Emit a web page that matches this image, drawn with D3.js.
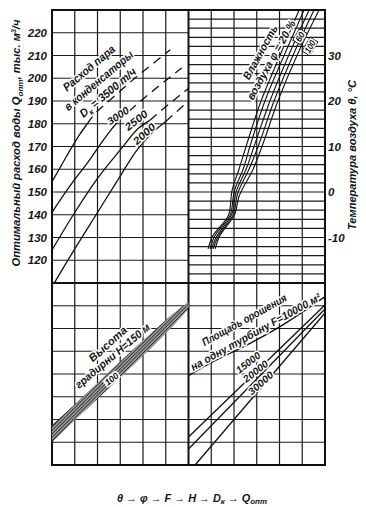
<!DOCTYPE html>
<html>
<head>
<meta charset="utf-8">
<script src="https://cdn.jsdelivr.net/npm/d3@7"></script>
<style>
body { margin: 0; background: #fff; }
svg text { font-family: "Liberation Sans", Arial, sans-serif; font-style: italic; font-weight: bold; fill: #151515; }
svg text.note { stroke: #fff; stroke-width: 3px; paint-order: stroke; stroke-linejoin: round; }
</style>
</head>
<body>
<svg id="chart" width="366" height="507"></svg>
<script>
// left axis, optimal water flow (thousand m3/h)
var flowTicks = [120, 130, 140, 150, 160, 170, 180, 190, 200, 210, 220];
// right axis, air temperature (C)
var tempTicks = [-10, 0, 10, 20, 30];

// steam flow into condensers D_k: [column, Q_opt]
var dk3500 = [[0,154.5],[0.4,161.5],[0.86,169.5],[1.2,175],[1.55,180],[1.85,184],[2.5,190],[3.7,200.5],[4.57,207.5],[5.2,212.5]];
var dk3000 = [[0,141],[0.5,148.5],[1,155.5],[1.5,162],[1.82,166.5],[2.2,172],[2.57,177],[2.9,181],[3.5,186.5],[4.5,195],[5.7,204.5]];
var dk2500 = [[0,124.5],[1,141],[2,156],[3,168.5],[3.8,178],[4.3,181.5],[5,187.5],[6,195.5]];
var dk2000 = [[0.1,110],[1,125],[2,141],[3,157],[3.7,168],[4.3,175],[5,181],[5.5,185.5],[6,190]];
var dashAbove = 181.5;

// air humidity phi lines: [temperature, column]
var phi20  = [[-12.5,6.86],[-10,7.03],[-4.8,7.78],[0.7,7.93],[5,8.22],[10,8.53],[20,9.19],[30,10.02],[40,10.86]];
var phi40  = [[-12.5,6.95],[-10,7.12],[-4.8,7.85],[0.3,8.02],[5,8.40],[10,8.70],[20,9.36],[30,10.20],[40,11.08]];
var phi60  = [[-12.5,7.01],[-10,7.21],[-4.8,7.91],[0,8.09],[5,8.53],[10,8.88],[20,9.58],[30,10.40],[40,11.30]];
var phi80  = [[-12.5,7.08],[-10,7.28],[-4.8,7.98],[-0.5,8.15],[5,8.66],[10,9.06],[20,9.76],[30,10.59],[40,11.52]];
var phi100 = [[-12.5,7.17],[-10,7.34],[-4.8,8.04],[-1,8.22],[5,8.84],[10,9.23],[20,9.93],[30,10.77],[40,11.74]];

// tower height H lines (lower panel): [column, row]
var h150 = [[0,6.29],[6,0.88]];
var h100 = [[0,6.95],[6,1.08]];

// irrigation area F lines: [column, row]
var f10000 = [[6,4.07],[7.08,3.46],[8.56,2.73],[10.02,1.92],[12,0.6]];
var f15000 = [[6,6.77],[12,0.97]];
var f20000 = [[6,7.3],[12,1.14]];
var f30000 = [[6.29,8],[12,1.32]];

var svg = d3.select("#chart");

var x = d3.scaleLinear().domain([0, 12]).range([52, 325]);
var yQ = d3.scaleLinear().domain([110, 230]).range([283, 10]);
var yT = d3.scaleLinear().domain([-20, 40]).range([283, 10]);
var yB = d3.scaleLinear().domain([0, 8]).range([283, 465]);

var defs = svg.append("defs");
var pat = defs.append("pattern").attr("id", "hatch").attr("patternUnits", "userSpaceOnUse")
  .attr("width", 2.4).attr("height", 2.4).attr("patternTransform", "rotate(45)");
pat.append("rect").attr("width", 2.4).attr("height", 2.4).attr("fill", "#9a9a9a");
pat.append("line").attr("x1", 0).attr("y1", 0).attr("x2", 0).attr("y2", 2.4)
  .attr("stroke", "#111").attr("stroke-width", 1.3);

var grid = svg.append("g").attr("stroke", "#1a1a1a").attr("stroke-width", 1.2);

// vertical grid
grid.selectAll(".v").data(d3.range(1, 12).filter(c => c != 6)).enter().append("line")
  .attr("x1", d => x(d)).attr("x2", d => x(d)).attr("y1", yQ(230)).attr("y2", yB(8));
// top-left horizontals
grid.selectAll(".hq").data(d3.range(120, 230, 10)).enter().append("line")
  .attr("x1", x(0)).attr("x2", x(6)).attr("y1", d => yQ(d)).attr("y2", d => yQ(d));
// top-right horizontals every 2 C
grid.selectAll(".ht").data(d3.range(-18, 40, 2)).enter().append("line")
  .attr("x1", x(6)).attr("x2", x(12)).attr("y1", d => yT(d)).attr("y2", d => yT(d));
// lower horizontals
grid.selectAll(".hb").data(d3.range(1, 8)).enter().append("line")
  .attr("x1", x(0)).attr("x2", x(12)).attr("y1", d => yB(d)).attr("y2", d => yB(d));

// thick frame and dividers
var thick = svg.append("g").attr("stroke", "#111").attr("stroke-width", 2).attr("fill", "none");
thick.append("rect").attr("x", x(0)).attr("y", yQ(230)).attr("width", x(12) - x(0)).attr("height", yB(8) - yQ(230));
thick.append("line").attr("x1", x(0)).attr("x2", x(12)).attr("y1", yB(0)).attr("y2", yB(0));
thick.append("line").attr("x1", x(6)).attr("x2", x(6)).attr("y1", yQ(230)).attr("y2", yB(8));

// axes
var axL = svg.append("g").attr("transform", "translate(" + x(0) + ",0)")
  .call(d3.axisLeft(yQ).tickValues(flowTicks).tickSize(0).tickPadding(5).tickFormat(d => String(d)));
var axR = svg.append("g").attr("transform", "translate(" + x(12) + ",0)")
  .call(d3.axisRight(yT).tickValues(tempTicks).tickSize(0).tickPadding(3).tickFormat(d => String(d)));
[axL, axR].forEach(function (a) {
  a.select(".domain").remove();
  a.selectAll("text").attr("font-family", null).style("font-size", "11.5px");
});

var curves = svg.append("g").attr("fill", "none").attr("stroke", "#111").attr("stroke-width", 1.3);

var lineQ = d3.line().x(d => x(d[0])).y(d => yQ(d[1])).curve(d3.curveMonotoneX);
[dk3500, dk3000, dk2500, dk2000].forEach(function (pts) {
  var k = pts.findIndex(p => p[1] > dashAbove);
  curves.append("path").attr("d", lineQ(pts.slice(0, k)));
  curves.append("path").attr("d", lineQ(pts.slice(k - 1))).attr("stroke-dasharray", "9,6");
});

// humidity lines drawn top-down so the curve is monotone in y
var lineT = d3.line().x(d => x(d[1])).y(d => yT(d[0])).curve(d3.curveMonotoneY);
[phi20, phi40, phi60, phi80, phi100].forEach(function (pts) {
  curves.append("path").attr("d", lineT(pts.slice().reverse())).attr("stroke-width", 1.1);
});

var lineB = d3.line().x(d => x(d[0])).y(d => yB(d[1])).curve(d3.curveCatmullRom.alpha(0.5));
svg.append("path").attr("d", lineB(h150.concat(h100.slice().reverse())) + "Z")
  .attr("fill", "url(#hatch)").attr("stroke", "none");
[h150, h100, f10000, f15000, f20000, f30000].forEach(function (pts) {
  curves.append("path").attr("d", lineB(pts));
});

// rotated notes
function note(px, py, angle, size, len) {
  var t = svg.append("text").attr("class", "note")
    .attr("transform", "translate(" + px + "," + py + ") rotate(" + angle + ")")
    .attr("text-anchor", "middle").attr("dy", "0.35em").style("font-size", size + "px");
  if (len) t.attr("textLength", len).attr("lengthAdjust", "spacingAndGlyphs");
  return t;
}
function boxed(px, py, angle, w, h, stroke) {
  svg.append("rect").attr("x", -w / 2).attr("y", -h / 2).attr("width", w).attr("height", h)
    .attr("transform", "translate(" + px + "," + py + ") rotate(" + angle + ")")
    .attr("fill", "#fff").attr("stroke", stroke ? "#111" : "none").attr("stroke-width", 0.9);
}

// steam flow labels
note(x(1.62), yQ(204.5), -40, 11.5, 64).text("Расход пара");
note(x(2.05), yQ(199), -40, 11.5, 86).text("в конденсаторы");
var t3 = note(x(2.45), yQ(193.8), -40, 11.5, 70);
t3.append("tspan").text("D");
t3.append("tspan").attr("dy", 3).style("font-size", "8px").text("к");
t3.append("tspan").attr("dy", -3).text(" = 3500 т/ч");
note(x(2.9), yQ(183.5), -33, 10.5, 24).text("3000");
note(x(3.7), yQ(181.5), -38, 10.5, 26).text("2500");
note(x(4.05), yQ(175.5), -42, 10.5, 26).text("2000");

// humidity labels
note(x(9.15), yT(30.7), -61, 11, 60).text("Влажность");
note(x(9.63), yT(29.0), -61, 11, 89).text("воздуха φ = 20 %");
boxed(x(10.9), yT(34.1), -60, 13, 9, true);
note(x(10.9), yT(34.1), -60, 9, 10).text("60");
boxed(x(11.34), yT(31.98), -60, 16, 9, true);
note(x(11.34), yT(31.98), -60, 9, 13).text("100");

// tower height labels
note(x(2.45), yB(2.68), -42, 11, 47).text("Высота");
note(x(2.66), yB(3.2), -40, 11, 94).text("градирни H=150 м");
boxed(x(2.62), yB(4.22), -38, 17, 8, false);
note(x(2.62), yB(4.22), -38, 9, 15).text("100");

// irrigation area labels
note(x(8.45), yB(1.62), -29, 11, 95).text("Площадь орошения");
note(x(8.95), yB(2.15), -29, 11, 147).text("на одну турбину F=10000 м²");
note(x(8.62), yB(3.5), -38, 10, 28).text("15000");
note(x(8.95), yB(3.88), -38, 10, 29).text("20000");
note(x(9.17), yB(4.4), -42, 10, 30).text("30000");

// axis titles
var tl = svg.append("text").attr("transform", "translate(16,143) rotate(-90)")
  .attr("text-anchor", "middle").attr("dy", "0.35em").style("font-size", "11px")
  .attr("textLength", 247).attr("lengthAdjust", "spacingAndGlyphs");
tl.append("tspan").text("Оптимальный расход воды Q");
tl.append("tspan").attr("dy", 3).style("font-size", "8px").text("опт");
tl.append("tspan").attr("dy", -3).text(", тыс. м");
tl.append("tspan").attr("dy", -4).style("font-size", "7px").text("3");
tl.append("tspan").attr("dy", 4).text("/ч");

svg.append("text").attr("transform", "translate(352,155) rotate(-90)")
  .attr("text-anchor", "middle").attr("dy", "0.35em").style("font-size", "11px")
  .attr("textLength", 150).attr("lengthAdjust", "spacingAndGlyphs")
  .text("Температура воздуха θ, °С");

// caption
var cap = svg.append("text").attr("x", 192).attr("y", 502).attr("text-anchor", "middle")
  .style("font-size", "11px").attr("textLength", 150).attr("lengthAdjust", "spacingAndGlyphs");
cap.append("tspan").text("θ → φ → F → H → D");
cap.append("tspan").attr("dy", 2).style("font-size", "8px").text("к");
cap.append("tspan").attr("dy", -2).text(" → Q");
cap.append("tspan").attr("dy", 2).style("font-size", "8px").text("опт");
</script>
</body>
</html>
